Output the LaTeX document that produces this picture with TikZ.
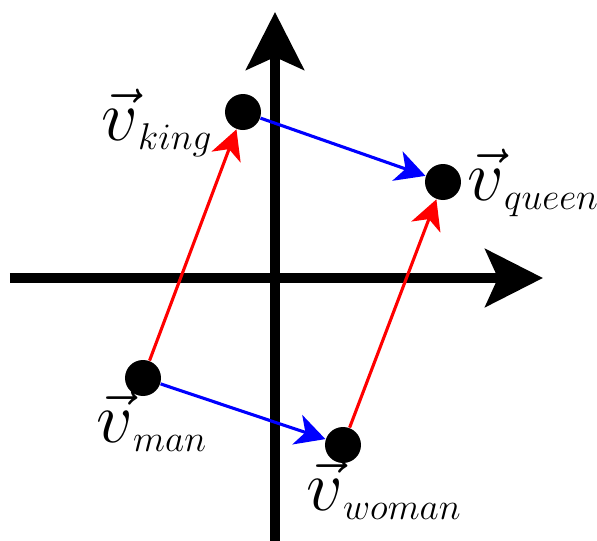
\documentclass[tikz,border=0pt]{standalone}
\usetikzlibrary{arrows.meta}
\newcommand{\vlab}[1]{$\scalebox{1.12}{$\vec{v}$}_{\mbox{\Large$#1$}}$}
\begin{document}
\begin{tikzpicture}[x=0.0125cm,y=-0.0125cm,
  axis/.style={line width=3.5pt,-{Stealth[length=20.5pt,width=20.5pt,inset=4.5pt]}},
  dot/.style={circle,fill=black,inner sep=0pt,minimum size=12.8pt},
  vec/.style={line width=1.1pt,-{Stealth[length=10.5pt,width=11pt,inset=3pt]}},
  lbl/.style={inner sep=0pt,font=\Huge,scale=0.92}]
\useasboundingbox (0,0) rectangle (597,541);
% axes
\coordinate (xs) at (10,278);
\coordinate (xe) at (543,278);
\coordinate (ys) at (275,541);
\coordinate (ye) at (275,12);
\draw[axis] (xs) -- (xe);
\draw[axis] (ys) -- (ye);
% word vectors
\node[dot] (king) at (243,112) {};
\node[dot] (queen) at (443,182) {};
\node[dot] (man) at (143,378) {};
\node[dot] (woman) at (343,445) {};
\draw[vec,red] (man) -- (king);
\draw[vec,red] (woman) -- (queen);
\draw[vec,blue] (king) -- (queen);
\draw[vec,blue] (man) -- (woman);
% labels
\node[lbl,anchor=base west] (kinglbl) at (101,140) {\vlab{king}};
\node[lbl,anchor=base west] (queenlbl) at (467,200) {\vlab{queen}};
\node[lbl,anchor=base west] (manlbl) at (96,442) {\vlab{man}};
\node[lbl,anchor=base west] (womanlbl) at (306,510) {\vlab{woman}};
\end{tikzpicture}
\end{document}
